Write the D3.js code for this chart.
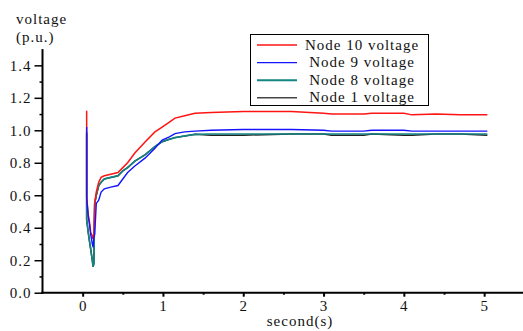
<!DOCTYPE html>
<html>
<head>
<meta charset="utf-8">
<script src="https://cdn.jsdelivr.net/npm/d3@7"></script>
<style>
  body { margin: 0; background: #fff; }
</style>
</head>
<body>
<svg id="chart" width="523" height="331"></svg>
<script>
// time points (s), shared by all series
const times = [0.05, 0.05, 0.07, 0.09, 0.10, 0.12, 0.13, 0.14, 0.15, 0.17, 0.20, 0.23, 0.27, 0.35, 0.44, 0.50,
  0.56, 0.65, 0.78, 0.90, 0.99, 1.08, 1.15, 1.27, 1.40, 1.60, 2.00, 2.60, 3.00, 3.10, 3.50, 3.60, 4.00, 4.10,
  4.40, 4.70, 5.04]

// voltages (p.u.)
const node10 = [1.12, 0.59, 0.48, 0.42, 0.37, 0.35, 0.33, 0.36, 0.55, 0.62, 0.68, 0.71, 0.72, 0.73, 0.74, 0.77,
  0.80, 0.86, 0.93, 0.99, 1.02, 1.05, 1.075, 1.09, 1.105, 1.11, 1.115, 1.115, 1.105, 1.10, 1.10, 1.105, 1.105, 1.095,
  1.10, 1.095, 1.095]
const node9 = [1.02, 0.58, 0.47, 0.40, 0.36, 0.30, 0.28, 0.34, 0.36, 0.55, 0.57, 0.62, 0.64, 0.65, 0.66, 0.70,
  0.74, 0.78, 0.83, 0.89, 0.94, 0.96, 0.98, 0.99, 0.995, 1.0, 1.005, 1.005, 1.0, 0.995, 0.995, 1.0, 1.0, 0.995,
  0.995, 0.995, 0.995]
const node8 = [0.99, 0.45, 0.37, 0.30, 0.27, 0.20, 0.16, 0.18, 0.55, 0.60, 0.66, 0.68, 0.70, 0.71, 0.72, 0.75,
  0.77, 0.81, 0.85, 0.90, 0.93, 0.945, 0.955, 0.965, 0.975, 0.977, 0.977, 0.977, 0.977, 0.977, 0.977, 0.977, 0.977, 0.977,
  0.977, 0.977, 0.977]
const node1 = [0.98, 0.45, 0.37, 0.30, 0.27, 0.20, 0.16, 0.18, 0.55, 0.60, 0.66, 0.68, 0.70, 0.71, 0.72, 0.75,
  0.77, 0.81, 0.85, 0.90, 0.93, 0.945, 0.955, 0.965, 0.975, 0.970, 0.970, 0.977, 0.977, 0.970, 0.970, 0.977, 0.970, 0.970,
  0.977, 0.977, 0.970]

const seriesNames = ['Node 10 voltage', 'Node 9 voltage', 'Node 8 voltage', 'Node 1 voltage']
const xTicks = [0, 1, 2, 3, 4, 5]
const yTicks = [0, 0.2, 0.4, 0.6, 0.8, 1.0, 1.2, 1.4]

const FONT = "'Liberation Serif', 'DejaVu Serif', serif"

const svg = d3.select('#chart')
svg.append('rect').attr('width', 523).attr('height', 331).attr('fill', '#fff')

// 比例尺
const x = d3.scaleLinear().domain([-0.5, 5.5]).range([42.5, 524.3])
const y = d3.scaleLinear().domain([0, 1.5]).range([292.7, 49.1])

// 坐标轴
const xAxis = svg.append('g').attr('transform', `translate(0,${y(0)})`)
xAxis.call(d3.axisBottom(x).tickValues(xTicks).tickSize(4).tickPadding(4).tickFormat(d3.format('d')))
xAxis.append('g').call(d3.axisBottom(x).tickValues([0.5, 1.5, 2.5, 3.5, 4.5]).tickSize(2).tickFormat(''))
xAxis.selectAll('.domain').remove()
xAxis.selectAll('line').attr('stroke', '#000').attr('stroke-width', 2)
xAxis.append('line').attr('x1', 41).attr('x2', 523).attr('stroke', '#000').attr('stroke-width', 2)

const yAxis = svg.append('g').attr('transform', `translate(${x(-0.5)},0)`)
yAxis.call(d3.axisLeft(y).tickValues(yTicks).tickSize(8).tickPadding(3).tickFormat(d3.format('.1f')))
yAxis.append('g').call(d3.axisLeft(y).tickValues(d3.range(0.1, 1.4, 0.2)).tickSize(3).tickFormat(''))
yAxis.selectAll('.domain').remove()
yAxis.selectAll('line').attr('stroke', '#000').attr('stroke-width', 1.5)
yAxis.append('line').attr('y1', y(1.5)).attr('y2', y(0) + 1).attr('stroke', '#000').attr('stroke-width', 2)

svg.selectAll('g').attr('font-family', null).attr('font-size', null)

// 轴标签
svg.append('text').attr('x', 16).attr('y', 24).text('voltage')
svg.append('text').attr('x', 16).attr('y', 42).text('(p.u.)')
svg.append('text').attr('x', 300).attr('y', 326).attr('text-anchor', 'middle').text('second(s)')

// 曲线
const series = [
  { name: seriesNames[3], values: node1, color: '#222', width: 1.5 },
  { name: seriesNames[2], values: node8, color: '#138585', width: 1.6 },
  { name: seriesNames[0], values: node10, color: '#ff1414', width: 1.5 },
  { name: seriesNames[1], values: node9, color: '#1414ff', width: 1.4 },
]
const line = d3.line().x(d => x(d[0])).y(d => y(d[1]))
svg.append('g')
  .selectAll('path')
  .data(series)
  .join('path')
  .attr('d', s => line(times.map((t, i) => [t, s.values[i]])))
  .attr('fill', 'none')
  .attr('stroke', s => s.color)
  .attr('stroke-width', s => s.width)

// 图例
const legend = svg.append('g')
legend.append('rect').attr('x', 250.5).attr('y', 34.5).attr('width', 178).attr('height', 71)
  .attr('fill', '#fff').attr('stroke', '#000').attr('stroke-width', 1)
const legendItems = [
  { name: seriesNames[0], color: '#ff1414', width: 1.5 },
  { name: seriesNames[1], color: '#1414ff', width: 1.2 },
  { name: seriesNames[2], color: '#138585', width: 2 },
  { name: seriesNames[3], color: '#444', width: 1.5 },
]
legendItems.forEach((d, i) => {
  const cy = 45 + i * 17.6
  legend.append('line').attr('x1', 257).attr('x2', 297).attr('y1', cy).attr('y2', cy)
    .attr('stroke', d.color).attr('stroke-width', d.width)
  legend.append('text').attr('x', 362).attr('y', cy + 4.5).attr('text-anchor', 'middle').text(d.name)
})

// 统一字体
svg.selectAll('text')
  .attr('font-family', FONT)
  .attr('font-size', 15)
  .attr('letter-spacing', 1)
  .attr('fill', '#111')
</script>
</body>
</html>
